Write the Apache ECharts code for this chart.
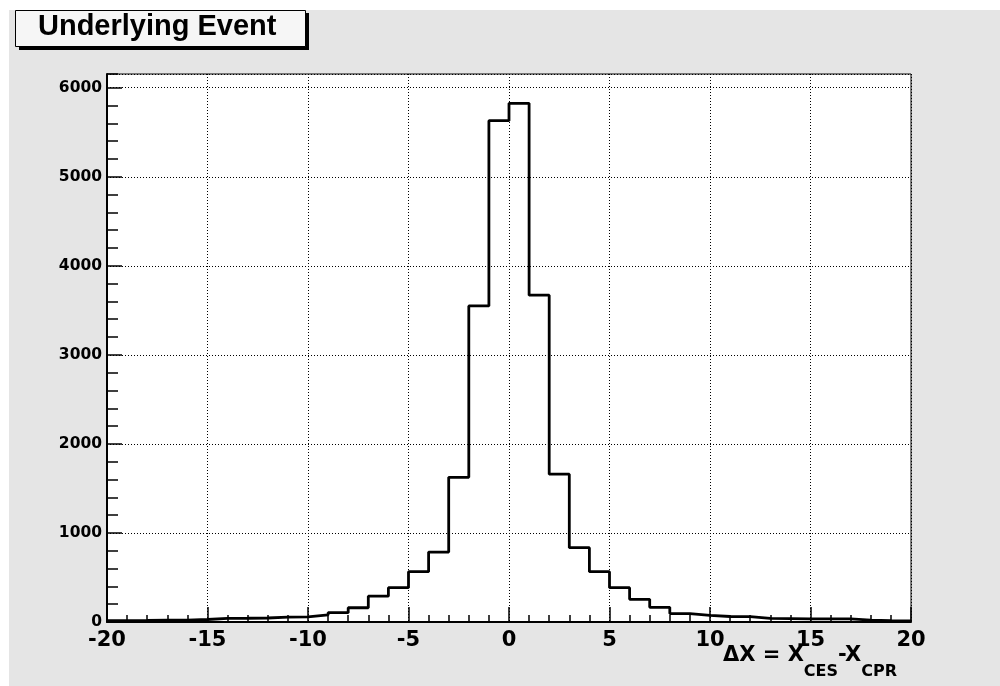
<!DOCTYPE html>
<html>
<head>
<meta charset="utf-8">
<script src="https://cdn.jsdelivr.net/npm/echarts@6/dist/echarts.min.js"></script>
<style>
  html, body { margin: 0; padding: 0; background: #ffffff; }
  #bg { position: absolute; left: 9px; top: 10px; width: 991px; height: 676px; background: #e5e5e5; }
  #chart { position: absolute; left: 0; top: 0; width: 1000px; height: 686px; }
</style>
</head>
<body>
<div id="bg"></div>
<div id="chart"></div>
<script>
// ---- data ----
const titleText = 'Underlying Event';
const xMin = -20;
const xMax = 20;
const binWidth = 1;
// entries per bin, bins from -20 to 20 (width 1)
const counts = [
  15, 18, 22, 22, 28, 40, 42, 45, 55, 58,
  80, 105, 160, 290, 385, 565, 785, 1625, 3550, 5630,
  5825, 3670, 1660, 835, 565, 385, 255, 165, 95, 75,
  62, 60, 40, 38, 36, 36, 35, 20, 15, 12
];
const yMax = 6154;
const xMajor = 5;
const yMajor = 1000;
const yMinor = 200;

// ---- build histogram step points from bin edges ----
const points = counts.map((c, i) => [xMin + i * binWidth, c]);
points.push([xMin + counts.length * binWidth, counts[counts.length - 1]]);

const chart = echarts.init(document.getElementById('chart'), null, { renderer: 'canvas' });
const font = '"Liberation Sans", Arial, Helvetica, sans-serif';
const labFont = '"DejaVu Sans", sans-serif';
const dotted = { color: '#000', width: 1, type: [1, 2] };

chart.setOption({
  animation: false,
  backgroundColor: 'transparent',
  grid: {
    left: 107, right: 89, top: 74, bottom: 64,
    show: true, backgroundColor: '#ffffff', borderColor: '#000', borderWidth: 1
  },
  xAxis: {
    type: 'value', min: xMin, max: xMax, interval: xMajor,
    axisLine: { show: true, onZero: false, lineStyle: { color: '#000', width: 2 } },
    axisTick: { show: true, inside: true, length: 15, lineStyle: { color: '#000', width: 1.5 } },
    minorTick: { show: true, splitNumber: 5, length: 7, lineStyle: { color: '#000', width: 1.5 } },
    axisLabel: { show: true, margin: 8, color: '#000', fontFamily: labFont, fontWeight: 'bold', fontSize: 21,
      showMinLabel: true, showMaxLabel: true, formatter: v => String(v) },
    splitLine: { show: true, lineStyle: dotted }
  },
  yAxis: [
    {
      type: 'value', min: 0, max: yMax, interval: yMajor, position: 'left',
      axisLine: { show: true, onZero: false, lineStyle: { color: '#000', width: 2 } },
      axisTick: { show: true, inside: true, length: 15, lineStyle: { color: '#000', width: 1.5 } },
      axisLabel: { show: true, margin: 5, color: '#000', fontFamily: labFont, fontWeight: 'bold', fontSize: 15.5,
        showMinLabel: true, showMaxLabel: false, formatter: v => String(v) },
      splitLine: { show: true, lineStyle: dotted }
    },
    {
      type: 'value', min: 0, max: yMax, interval: yMinor, position: 'left', offset: 0,
      axisLine: { show: false, onZero: false },
      axisTick: { show: true, inside: true, length: 11, lineStyle: { color: '#000', width: 1.5 } },
      axisLabel: { show: false },
      splitLine: { show: false }
    }
  ],
  series: [{
    type: 'line',
    yAxisIndex: 0,
    step: 'end',
    symbol: 'none',
    data: points,
    lineStyle: { color: '#000', width: 2.8 },
    z: 5
  }],
  graphic: [
    { type: 'rect', shape: { x: 19, y: 13, width: 290, height: 37 }, style: { fill: '#000' }, z: 10 },
    { type: 'rect', shape: { x: 15.5, y: 10.5, width: 290, height: 36 },
      style: { fill: '#f6f6f6', stroke: '#000', lineWidth: 1 }, z: 11 },
    { type: 'text', x: 38, y: 26.5, z: 12,
      style: { text: titleText, fill: '#000', font: 'bold 29px ' + font, verticalAlign: 'middle' } },
    { type: 'text', x: 897, y: 645, z: 12,
      style: {
        text: '{m|ΔX = X}{s|CES}{m|-X}{s|CPR}',
        align: 'right', verticalAlign: 'top',
        rich: {
          m: { fontFamily: labFont, fontWeight: 'bold', fontSize: 21, verticalAlign: 'top', fill: '#000' },
          s: { fontFamily: labFont, fontWeight: 'bold', fontSize: 16, verticalAlign: 'top', padding: [19, 0, 0, 0], fill: '#000' }
        }
      } }
  ]
});
</script>
</body>
</html>
